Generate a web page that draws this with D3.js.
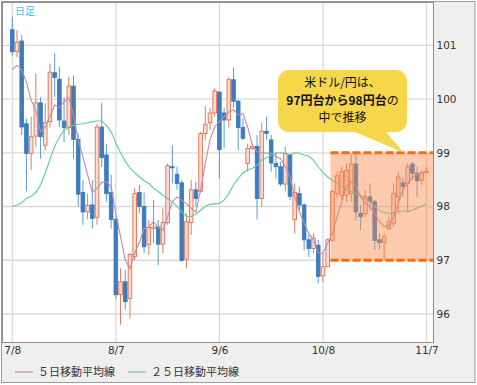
<!DOCTYPE html>
<html>
<head>
<meta charset="utf-8">
<title>USD/JPY 日足</title>
<script src="https://cdn.jsdelivr.net/npm/d3@7"></script>
<style>
  body { margin: 0; background: #fff; }
  text { font-family: "DejaVu Sans", sans-serif; }
  .jp { font-family: "Noto Sans CJK JP", sans-serif; }
</style>
</head>
<body>
<div id="chart"></div>
<script>
// --- data (one candle per trading day, 7/8 .. 11/7) ---
const dateLabels = ["7/8", "8/7", "9/6", "10/8", "11/7"];
const dateIndex  = [0, 22, 44, 66, 88];
const yTicks = [96, 97, 98, 99, 100, 101];

const open  = [101.29,100.88,101.08,99.54,98.99,99.31,99.93,99.14,99.58,100.49,100.37,99.59,99.47,100.24,99.25,98.26,97.90,98.03,97.80,99.48,98.96,98.26,97.76,96.36,96.60,96.29,97.07,98.26,98.00,97.29,97.59,97.62,97.30,97.70,98.74,98.60,98.44,97.02,97.70,98.31,98.28,99.36,99.56,99.74,100.13,99.74,99.61,100.36,99.96,99.47,98.80,99.08,99.12,98.15,99.40,99.24,98.80,98.74,98.42,98.96,97.76,98.24,98.03,97.38,97.22,97.28,96.71,96.88,97.37,98.24,98.21,98.21,98.24,98.79,97.87,97.87,98.18,98.09,97.38,97.33,97.59,97.69,98.18,98.44,98.43,98.79,98.62,98.49,98.63];
const high  = [101.53,101.28,101.19,99.64,99.67,100.47,100.04,99.92,100.66,100.85,100.60,100.03,100.41,100.44,99.36,98.49,98.24,98.49,99.54,99.93,99.17,98.59,97.81,96.85,96.82,97.13,98.34,98.40,98.26,97.75,98.12,97.75,97.97,98.80,99.14,98.74,98.49,97.87,98.49,98.46,99.39,99.87,99.84,100.20,100.15,99.84,100.41,100.59,99.98,99.64,99.17,99.17,99.33,99.56,99.67,99.33,99.02,98.83,99.11,98.99,98.43,98.37,98.06,97.47,97.50,97.38,97.13,97.41,98.31,98.65,98.74,98.80,98.99,98.99,98.03,98.31,98.43,98.12,97.50,97.50,97.81,98.43,98.65,98.55,98.80,98.83,98.74,98.68,98.74];
const low   = [100.81,100.78,99.33,98.28,98.68,99.11,98.89,99.04,99.47,100.04,99.48,99.20,99.33,98.89,98.00,97.66,97.76,97.59,97.66,98.74,98.09,97.59,96.29,95.80,96.08,95.92,97.00,97.87,97.13,97.10,97.32,96.91,97.13,97.66,98.43,98.31,96.97,96.85,97.47,98.00,98.26,99.24,99.42,99.67,98.52,99.08,99.47,99.84,99.05,99.24,98.65,99.05,97.76,98.00,99.24,98.65,98.52,98.38,98.28,98.12,97.50,97.93,97.19,97.06,97.13,96.57,96.60,96.87,97.35,98.15,98.12,98.09,98.09,97.75,97.56,97.81,97.93,97.19,97.19,97.00,97.56,97.63,97.87,98.18,97.90,98.49,98.18,98.40,98.62];
const close = [100.88,101.06,99.48,98.99,99.30,99.93,99.30,99.56,100.50,100.40,99.61,99.47,100.24,99.25,98.23,97.90,98.02,97.78,99.48,98.91,98.24,97.76,96.36,96.60,96.23,97.11,98.24,98.00,97.25,97.61,97.62,97.30,97.70,98.76,98.72,98.43,97.00,97.72,98.31,98.15,99.36,99.53,99.74,100.15,99.06,99.61,100.36,99.96,99.47,99.27,99.08,99.12,98.15,99.40,99.36,98.81,98.74,98.42,98.99,98.19,98.26,98.03,97.38,97.22,97.41,96.70,96.88,97.38,98.28,98.57,98.65,98.67,98.79,97.90,97.81,98.18,98.09,97.37,97.33,97.44,97.72,98.24,98.55,98.37,98.74,98.62,98.48,98.63,98.66];

// moving averages as drawn (they start before the visible range)
const ma5  = [100.55,100.63,100.54,100.32,99.98,99.79,99.39,99.48,99.67,99.89,99.84,99.95,100.03,99.70,99.24,98.93,98.59,98.26,98.34,98.45,98.46,98.37,97.87,97.44,97.00,96.85,97.13,97.33,97.59,97.62,97.72,97.61,97.56,97.81,98.09,98.18,98.12,98.05,97.97,97.90,98.31,98.80,99.24,99.48,99.58,99.67,99.76,99.80,99.70,99.73,99.48,99.14,99.02,99.00,98.99,98.99,98.93,98.89,98.74,98.55,98.18,97.90,97.69,97.50,97.38,97.13,97.13,97.32,97.50,97.81,98.09,98.37,98.46,98.37,98.18,98.06,98.00,97.87,97.72,97.63,97.63,97.81,98.06,98.31,98.43,98.54,98.60,98.63,98.65];
const ma25 = [98.00,98.03,98.07,98.15,98.19,98.26,98.40,98.62,98.88,99.12,99.29,99.42,99.48,99.51,99.53,99.54,99.56,99.58,99.59,99.59,99.51,99.39,99.18,99.00,98.84,98.72,98.63,98.55,98.48,98.43,98.34,98.28,98.21,98.15,98.09,98.00,97.90,97.82,97.81,97.86,97.93,98.00,98.04,98.05,98.06,98.12,98.24,98.40,98.52,98.63,98.68,98.71,98.77,98.86,98.91,98.96,98.99,99.00,98.99,98.96,99.00,98.99,98.96,98.94,98.86,98.74,98.63,98.55,98.49,98.43,98.37,98.31,98.28,98.24,98.21,98.15,98.09,98.00,97.92,97.89,97.87,97.89,97.90,97.92,97.90,97.93,97.97,98.00,98.05];

// highlighted range and callout
const rangeLow = 97, rangeHigh = 99, rangeFrom = 67.6;
const calloutAt = 83.2;
const calloutLines = ["米ドル/円は、", "97円台から98円台", "の", "中で推移"];

// --- layout ---
const W = 477, H = 385;
const plot = {left: 2.5, top: 2.5, right: 433.5, bottom: 342.5};

const x = d3.scaleLinear().domain([0, 88]).range([12.3, 426.5]);
const y = d3.scaleLinear().domain([96, 101]).range([314, 45.3]);

const svg = d3.select("#chart").append("svg")
    .attr("width", W)
    .attr("height", H);

// frame and plot background
svg.append("rect")
    .attr("x", 1.5).attr("y", 1.5)
    .attr("width", W - 3.5).attr("height", H - 4)
    .attr("fill", "#efefef")
    .attr("stroke", "#9c9c9c");

svg.append("clipPath").attr("id", "plot-clip")
  .append("rect")
    .attr("x", plot.left).attr("y", plot.top)
    .attr("width", plot.right - plot.left).attr("height", plot.bottom - plot.top);

svg.append("rect")
    .attr("x", plot.left).attr("y", plot.top)
    .attr("width", plot.right - plot.left).attr("height", plot.bottom - plot.top)
    .attr("fill", "#fff");

// grid
svg.append("g").selectAll("line").data(yTicks).enter().append("line")
    .attr("x1", plot.left).attr("x2", plot.right)
    .attr("y1", d => y(d)).attr("y2", d => y(d))
    .attr("stroke", "#dadada").attr("stroke-width", 1.3);

svg.append("g").selectAll("line").data(dateIndex).enter().append("line")
    .attr("x1", d => x(d)).attr("x2", d => x(d))
    .attr("y1", plot.top).attr("y2", plot.bottom)
    .attr("stroke", "#dadada").attr("stroke-width", 1.3);

const g = svg.append("g").attr("clip-path", "url(#plot-clip)");

// candles: red hollow = up, blue filled = down
const candles = d3.range(open.length).map(i => ({
    i: i, o: open[i], h: high[i], l: low[i], c: close[i], up: close[i] >= open[i]
}));
const bw = 3.6;

g.append("g").selectAll("line").data(candles).enter().append("line")
    .attr("x1", d => x(d.i)).attr("x2", d => x(d.i))
    .attr("y1", d => y(d.h)).attr("y2", d => y(d.l))
    .attr("stroke", d => d.up ? "#e8785c" : "#5b9bd6")
    .attr("stroke-width", 1);

g.append("g").selectAll("rect").data(candles).enter().append("rect")
    .attr("x", d => x(d.i) - bw / 2)
    .attr("y", d => y(Math.max(d.o, d.c)))
    .attr("width", bw)
    .attr("height", d => Math.max(1, Math.abs(y(d.o) - y(d.c))))
    .attr("fill", d => d.up ? "#fbdcd3" : "#3b7dbf")
    .attr("stroke", d => d.up ? "#e5704f" : "#3b7dbf")
    .attr("stroke-width", 0.9);

// moving averages
const maLine = d3.line().x((d, i) => x(i)).y(d => y(d));

g.append("path").datum(ma25)
    .attr("fill", "none").attr("stroke", "#5fcf8f").attr("stroke-width", 1.1)
    .attr("d", maLine);

g.append("path").datum(ma5)
    .attr("fill", "none").attr("stroke", "#c488a8").attr("stroke-width", 1.1)
    .attr("d", maLine);

// highlighted 97-99 band
g.append("rect")
    .attr("x", x(rangeFrom)).attr("y", y(rangeHigh))
    .attr("width", plot.right - x(rangeFrom))
    .attr("height", y(rangeLow) - y(rangeHigh))
    .attr("fill", "#f98c4c").attr("opacity", 0.45);

g.append("g").selectAll("line").data([rangeLow, rangeHigh]).enter().append("line")
    .attr("x1", x(rangeFrom)).attr("x2", plot.right)
    .attr("y1", d => y(d)).attr("y2", d => y(d))
    .attr("stroke", "#fb6a0c").attr("stroke-width", 3)
    .attr("stroke-dasharray", "8,3");

// plot border
svg.append("rect")
    .attr("x", plot.left).attr("y", plot.top)
    .attr("width", plot.right - plot.left).attr("height", plot.bottom - plot.top)
    .attr("fill", "none").attr("stroke", "#8c8c8c");

// y labels (right side)
const yAxis = svg.append("g")
    .attr("transform", "translate(" + plot.right + ",0)")
    .call(d3.axisRight(y).tickValues(yTicks).tickSize(0).tickPadding(3)
        .tickFormat(d3.format("d")));
yAxis.select(".domain").remove();
yAxis.selectAll("text")
    .style("font-family", "DejaVu Sans")
    .style("font-size", "10.5px")
    .attr("fill", "#333");

// x labels
const xAxis = svg.append("g")
    .attr("transform", "translate(0," + plot.bottom + ")")
    .call(d3.axisBottom(x).tickValues(dateIndex).tickSize(0).tickPadding(4)
        .tickFormat((d, i) => dateLabels[i]));
xAxis.select(".domain").remove();
xAxis.selectAll("text")
    .style("font-family", "DejaVu Sans")
    .style("font-size", "10.5px")
    .attr("fill", "#333");

// 日足 label
svg.append("text")
    .attr("class", "jp")
    .attr("x", 15).attr("y", 15)
    .style("font-size", "10px")
    .attr("fill", "#3fbff0")
    .text("日足");

// callout bubble with pointer
const bx = 278, by = 70, bwid = 129, bh = 62, r = 11;
const tipX = x(calloutAt), tipY = y(rangeHigh);
const bubble = d3.path();
bubble.moveTo(bx + r, by);
bubble.lineTo(bx + bwid - r, by);
bubble.arcTo(bx + bwid, by, bx + bwid, by + r, r);
bubble.lineTo(bx + bwid, by + bh - r);
bubble.arcTo(bx + bwid, by + bh, bx + bwid - r, by + bh, r);
bubble.lineTo(386, by + bh);
bubble.lineTo(tipX, tipY);
bubble.lineTo(355, by + bh);
bubble.lineTo(bx + r, by + bh);
bubble.arcTo(bx, by + bh, bx, by + bh - r, r);
bubble.lineTo(bx, by + r);
bubble.arcTo(bx, by, bx + r, by, r);
bubble.closePath();

svg.append("path")
    .attr("d", bubble.toString())
    .attr("fill", "#f6d74b");

const cx = bx + bwid / 2;
svg.append("text")
    .attr("class", "jp")
    .attr("x", cx).attr("y", 87)
    .attr("text-anchor", "middle")
    .style("font-size", "12px")
    .attr("fill", "#111")
    .text(calloutLines[0]);

const l2 = svg.append("text")
    .attr("class", "jp")
    .attr("x", cx).attr("y", 104.5)
    .attr("text-anchor", "middle")
    .style("font-size", "12px")
    .attr("fill", "#111");
l2.append("tspan").style("font-weight", "bold").text(calloutLines[1]);
l2.append("tspan").text(calloutLines[2]);

svg.append("text")
    .attr("class", "jp")
    .attr("x", cx).attr("y", 122)
    .attr("text-anchor", "middle")
    .style("font-size", "12px")
    .attr("fill", "#111")
    .text(calloutLines[3]);

// legend
const legend = [
    {label: "５日移動平均線", color: "#c488a8", x: 15},
    {label: "２５日移動平均線", color: "#5fcf8f", x: 128}
];
const lg = svg.append("g").selectAll("g").data(legend).enter().append("g")
    .attr("transform", d => "translate(" + d.x + ",372)");
lg.append("line")
    .attr("x1", 0).attr("x2", 18).attr("y1", 0).attr("y2", 0)
    .attr("stroke", d => d.color).attr("stroke-width", 1.2);
lg.append("text")
    .attr("class", "jp")
    .attr("x", 23).attr("y", 4)
    .style("font-size", "11px")
    .attr("fill", "#333")
    .text(d => d.label);
</script>
</body>
</html>
